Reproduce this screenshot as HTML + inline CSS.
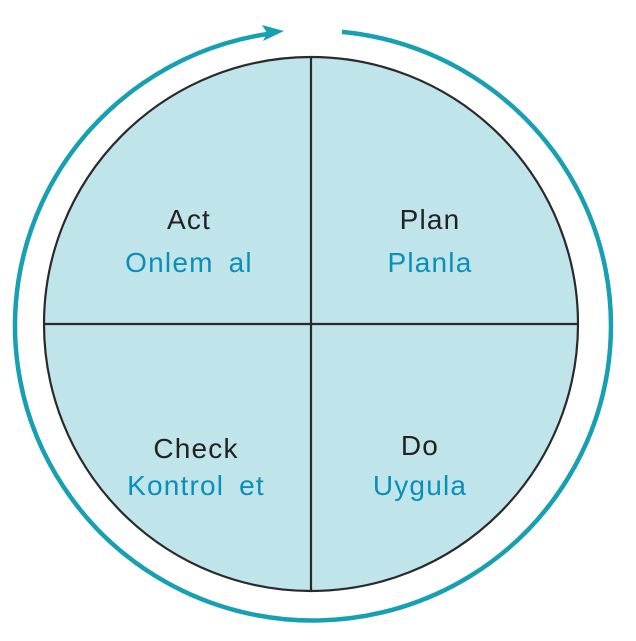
<!DOCTYPE html>
<html><head><style>html,body{margin:0;padding:0;background:#fff;}svg{display:block}</style></head>
<body>
<svg width="636" height="641" viewBox="0 0 636 641" xmlns="http://www.w3.org/2000/svg">
<path d="M342 31.9 A298 295 0 1 1 272 33.3" fill="none" stroke="#17a0b2" stroke-width="4.5"/>
<polygon points="284,31 262,25 267,33 263,41" fill="#17a0b2"/>
<circle cx="311" cy="324" r="267" fill="#bfe4ea" stroke="#2a2a2a" stroke-width="2.2"/>
<line x1="311" y1="57" x2="311" y2="591" stroke="#2a2a2a" stroke-width="2.2"/>
<line x1="44" y1="324" x2="578" y2="324" stroke="#2a2a2a" stroke-width="2.2"/>
<g font-family="Liberation Sans, sans-serif" font-size="28" text-anchor="middle" letter-spacing="1.2" word-spacing="6">
<text x="189" y="229" fill="#222">Act</text>
<text x="189" y="272" fill="#0a8fb8">Onlem al</text>
<text x="430" y="229" fill="#222">Plan</text>
<text x="430" y="272" fill="#0a8fb8">Planla</text>
<text x="196" y="458" fill="#222">Check</text>
<text x="196" y="495" fill="#0a8fb8">Kontrol et</text>
<text x="420" y="455" fill="#222">Do</text>
<text x="420" y="495" fill="#0a8fb8">Uygula</text>
</g>
</svg>
</body></html>
